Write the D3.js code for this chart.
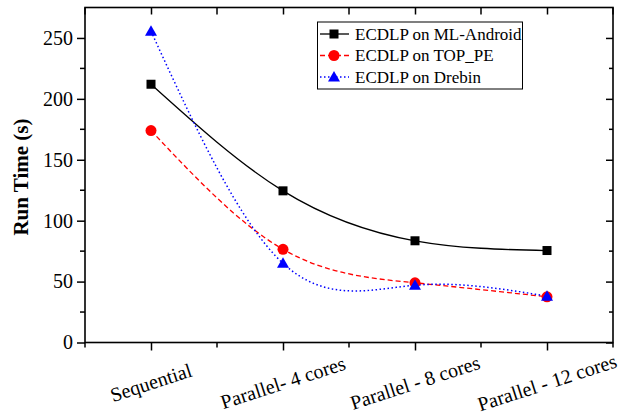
<!DOCTYPE html>
<html><head><meta charset="utf-8">
<script src="https://cdn.jsdelivr.net/npm/d3@7"></script>
<style>
body{margin:0;background:#fff;}
svg{display:block;}
svg text{font-family:"Liberation Serif","Times New Roman",serif;}
</style></head>
<body>
<svg id="chart" width="627" height="420"></svg>
<script>
const categories = ["Sequential", "Parallel- 4 cores", "Parallel - 8 cores", "Parallel - 12 cores"];
const mlAndroid = [212, 124.5, 83.5, 75.5];
const topPE = [174, 76.5, 49, 37.5];
const drebin = [255.5, 65, 47, 38];
const seriesNames = ["ECDLP on ML-Android", "ECDLP on TOP_PE", "ECDLP on Drebin"];
const yTicks = [0, 50, 100, 150, 200, 250];
const yMinor = [25, 75, 125, 175, 225];

const FONT = "Liberation Serif, Times New Roman, serif";
const svg = d3.select("#chart").attr("font-family", FONT);
const L = 85, R = 613, T = 7.5, B = 342.5;
const x = d3.scalePoint().domain(categories).range([L, R]).padding(0.5);
const y = d3.scaleLinear().domain([0, 275]).range([B, T]);

// frame
svg.append("rect").attr("x", L).attr("y", T).attr("width", R - L).attr("height", B - T)
  .attr("fill", "none").attr("stroke", "#000").attr("stroke-width", 1.6);

// left axis
const gl = svg.append("g").attr("transform", `translate(${L},0)`)
  .call(d3.axisLeft(y).tickValues(yTicks).tickSize(8).tickPadding(4).tickSizeOuter(0))
  .attr("font-family", FONT).attr("font-size", 20);
gl.select(".domain").remove();
gl.selectAll("line").attr("stroke-width", 1.5);
gl.selectAll("text").attr("fill", "#000");
gl.selectAll(".minor").data(yMinor).enter().append("line")
  .attr("x1", -5).attr("x2", 0).attr("y1", d => y(d)).attr("y2", d => y(d))
  .attr("stroke", "#000").attr("stroke-width", 1.5);

// right axis (inward)
const gr = svg.append("g").attr("transform", `translate(${R},0)`)
  .call(d3.axisLeft(y).tickValues(yTicks).tickSize(7).tickFormat("").tickSizeOuter(0));
gr.select(".domain").remove();
gr.selectAll("line").attr("stroke-width", 1.5);
gr.selectAll(".minor").data(yMinor).enter().append("line")
  .attr("x1", -4).attr("x2", 0).attr("y1", d => y(d)).attr("y2", d => y(d))
  .attr("stroke", "#000").attr("stroke-width", 1.5);

// bottom axis
const xMinor = categories.slice(0, -1).map((c, i) => (x(c) + x(categories[i + 1])) / 2)
  .concat([x(categories[0]) - x.step() / 2, x(categories[categories.length - 1]) + x.step() / 2]);
const gb = svg.append("g").attr("transform", `translate(0,${B})`)
  .call(d3.axisBottom(x).tickSize(8).tickFormat("").tickSizeOuter(0))
  .attr("font-family", FONT).attr("font-size", 20);
gb.select(".domain").remove();
gb.selectAll("line").attr("stroke-width", 1.5);
gb.selectAll(".minor").data(xMinor).enter().append("line")
  .attr("x1", d => d).attr("x2", d => d).attr("y1", 0).attr("y2", 5)
  .attr("stroke", "#000").attr("stroke-width", 1.5);
gb.selectAll(".lbl").data(categories).enter().append("text")
  .attr("transform", d => `translate(${x(d)},40) rotate(-18)`)
  .attr("text-anchor", "middle").attr("dy", "0.35em")
  .attr("fill", "#000").text(d => d);

// top axis (inward)
const gt = svg.append("g").attr("transform", `translate(0,${T})`)
  .call(d3.axisBottom(x).tickSize(7).tickFormat("").tickSizeOuter(0));
gt.select(".domain").remove();
gt.selectAll("line").attr("stroke-width", 1.5);
gt.selectAll(".minor").data(xMinor).enter().append("line")
  .attr("x1", d => d).attr("x2", d => d).attr("y1", 0).attr("y2", 7)
  .attr("stroke", "#000").attr("stroke-width", 1.5);

// y title
svg.append("text").attr("transform", `translate(28,177) rotate(-90)`)
  .attr("text-anchor", "middle").attr("font-size", 21).attr("font-weight", "bold")
  .attr("fill", "#000").text("Run Time (s)");

// series
const series = [
  {name: seriesNames[0], values: mlAndroid, color: "#000000", dash: null, width: 1.3, shape: "square"},
  {name: seriesNames[1], values: topPE, color: "#ff0000", dash: "5,3", width: 1.3, shape: "circle"},
  {name: seriesNames[2], values: drebin, color: "#0000ff", dash: "1.5,2.5", width: 1.5, shape: "triangle"}
];
const line = d3.line().x((d, i) => x(categories[i])).y(d => y(d)).curve(d3.curveNatural);

function marker(g, shape, cx, cy, color) {
  if (shape === "square") {
    g.append("rect").attr("x", cx - 4.5).attr("y", cy - 4.5).attr("width", 9).attr("height", 9).attr("fill", color);
  } else if (shape === "circle") {
    g.append("circle").attr("cx", cx).attr("cy", cy).attr("r", 5.5).attr("fill", color);
  } else {
    g.append("path").attr("d", `M${cx},${cy - 6}L${cx + 6},${cy + 4.5}L${cx - 6},${cy + 4.5}Z`).attr("fill", color);
  }
}

series.forEach(s => {
  svg.append("path").datum(s.values).attr("d", line).attr("fill", "none")
    .attr("stroke", s.color).attr("stroke-width", s.width)
    .attr("stroke-dasharray", s.dash);
});
series.forEach(s => {
  const g = svg.append("g");
  s.values.forEach((v, i) => marker(g, s.shape, x(categories[i]), y(v), s.color));
});

// legend
const lg = svg.append("g");
lg.append("rect").attr("x", 317.5).attr("y", 22).attr("width", 205).attr("height", 67)
  .attr("fill", "#fff").attr("stroke", "#000").attr("stroke-width", 1);
series.forEach((s, i) => {
  const ly = 34 + i * 21.5;
  lg.append("line").attr("x1", 320).attr("x2", 349).attr("y1", ly).attr("y2", ly)
    .attr("stroke", s.color).attr("stroke-width", s.width).attr("stroke-dasharray", s.dash);
  marker(lg, s.shape, 334, ly, s.color);
  lg.append("text").attr("x", 355).attr("y", ly).attr("dy", "0.35em")
    .attr("font-size", 17).attr("fill", "#000").text(s.name);
});
</script>
</body></html>
